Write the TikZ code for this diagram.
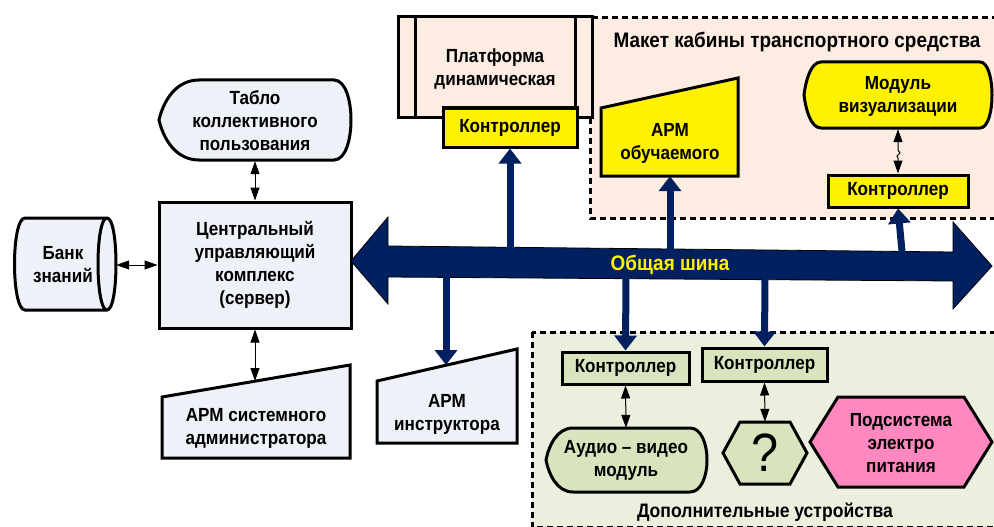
\documentclass[tikz,border=0pt]{standalone}
\usepackage{fontspec}
\setmainfont{Liberation Sans}[FakeStretch=0.9]
\usetikzlibrary{arrows.meta}

\definecolor{busblue}{RGB}{0,32,96}
\definecolor{srvfill}{RGB}{238,241,247}
\definecolor{cabfill}{RGB}{252,236,226}
\definecolor{devfill}{RGB}{235,240,222}
\definecolor{devbox}{RGB}{215,228,189}
\definecolor{powfill}{RGB}{255,136,192}

% display symbol: style, x1, y1, x2, y2, left depth, right depth
\newcommand{\dispshape}[7]{\path[#1] ({#2+#6},#3) -- ({#4-#7},#3)
  .. controls ({#4+#7/3},#3) and ({#4+#7/3},#5) .. ({#4-#7},#5) -- ({#2+#6},#5)
  .. controls ({#2+0.4*#6},#5) and ({#2+0.1*#6},{(#3+#5)/2+0.22*(#5-#3)}) .. (#2,{(#3+#5)/2})
  .. controls ({#2+0.1*#6},{(#3+#5)/2-0.22*(#5-#3)}) and ({#2+0.4*#6},#3) .. cycle;}
% hexagon: style, x1, y1, x2, y2, corner
\newcommand{\hexshape}[6]{\path[#1] (#2,{(#3+#5)/2}) -- ({#2+#6},#3) -- ({#4-#6},#3)
  -- (#4,{(#3+#5)/2}) -- ({#4-#6},#5) -- ({#2+#6},#5) -- cycle;}

\begin{document}
\begin{tikzpicture}[x=1pt,y=-1pt,
    txt/.style={font=\fontsize{19}{23}\selectfont\bfseries,align=center,inner sep=0pt},
    box/.style={txt,draw,line width=3pt},
    outline/.style={draw,line width=3pt},
    link/.style={line width=1pt,{Triangle[length=13pt,width=9pt]}-{Triangle[length=13pt,width=9pt]}},
    busline/.style={line width=7pt,busblue,-{Triangle[length=15pt,width=22pt]}},
    zone/.style={draw,line width=3pt,dash pattern=on 6pt off 4pt}]
  \useasboundingbox (0,0) rectangle (994,527);

  \path[zone,fill=cabfill] (590,18) rectangle (1004,218);
  \path[zone,fill=devfill] (532,332) rectangle (1004,527);

  \node (cabin) at (797,42) [txt,font=\fontsize{21}{25}\selectfont\bfseries] {Макет кабины транспортного средства};
  \node (devices) at (765,512) [txt,font=\fontsize{19.5}{23}\selectfont\bfseries] {Дополнительные устройства};

  % server side
  \node (central) at (255,265) [box,fill=srvfill,minimum width=192pt,minimum height=126pt] {Центральный\\управляющий\\комплекс\\(сервер)};

  \dispshape{outline,fill=srvfill}{159}{80}{351}{160}{40}{17}
  \node (tablo) at (255,121) [txt,minimum width=192pt,minimum height=80pt] {Табло\\коллективного\\пользования};

  \path[outline,fill=srvfill] (107,218) -- (25,218) .. controls (11,218) and (11,310) .. (25,310)
    -- (107,310) .. controls (119,310) and (119,218) .. cycle;
  \draw[line width=3pt] (107,218) .. controls (95,218) and (95,310) .. (107,310);
  \node (bank) at (63,265) [txt,minimum width=106pt,minimum height=92pt] {Банк\\знаний};

  \path[outline,fill=srvfill] (162,397) -- (350,365) -- (350,458) -- (162,458) -- cycle;
  \node (armadm) at (256,428) [txt] {АРМ системного\\администратора};
  \coordinate (admtop) at (255,381);

  \path[outline,fill=srvfill] (377,381) -- (517,349) -- (517,443) -- (377,443) -- cycle;
  \node (arminstr) at (447,414) [txt] {АРМ\\инструктора};
  \coordinate (instrtop) at (446,365);

  \draw[link] (bank.east) -- (central.west);
  \draw[link] (tablo.south) -- (central.north);
  \draw[link] (central.south) -- (admtop);

  % platform
  \path[outline,fill=cabfill] (398,17) rectangle (592,117);
  \draw[line width=3pt] (415,17) -- (415,117) (575,17) -- (575,117);
  \node (platform) at (495,69) [txt] {Платформа\\динамическая};
  \node (ctrlplat) at (510,127.5) [box,fill=yellow,minimum width=134pt,minimum height=39pt] {Контроллер};

  % cabin
  \path[outline,fill=yellow] (601,108) -- (738,78) -- (738,176) -- (601,176) -- cycle;
  \node (armstud) at (670,143) [txt,minimum width=137pt,minimum height=66pt] {АРМ\\обучаемого};

  \dispshape{outline,fill=yellow}{804}{62}{992}{128}{17}{12}
  \node (visual) at (898,96) [txt,minimum height=66pt] {Модуль\\визуализации};
  \node (ctrlcab) at (898,191) [box,fill=yellow,minimum width=140pt,minimum height=32pt] {Контроллер};
  \draw[link] (visual.south) -- (898,150) -- (900,153) -- (897,156) -- (898,158) -- (ctrlcab.north);

  % additional devices
  \node (ctrlaudio) at (625.5,368) [box,fill=devbox,minimum width=127pt,minimum height=32pt] {Контроллер};
  \node (ctrlq) at (764.5,364.5) [box,fill=devbox,minimum width=125pt,minimum height=33pt] {Контроллер};

  \dispshape{outline,fill=devbox}{546}{428}{707}{492}{27}{17}
  \node (audio) at (626,460) [txt,minimum height=64pt] {Аудио – видео\\модуль};

  \hexshape{outline,fill=devbox}{723}{422}{807}{484}{17}
  \node (unknown) at (765,453) [inner sep=0pt,minimum height=62pt,font=\fontsize{54}{54}\selectfont] {?};

  \hexshape{outline,fill=powfill}{810}{397}{992}{487}{28}
  \node (power) at (901,443) [txt] {Подсистема\\электро\\питания};

  \draw[link] (ctrlaudio.south) -- (audio.north);
  \draw[link] (ctrlq.south) -- (unknown.north);

  % common bus
  \path[fill=busblue,draw=black,line width=0.8pt] (351,261) -- (388,217) -- (388,246) -- (953,252)
    -- (953,222) -- (992,266) -- (953,309) -- (953,281) -- (388,277) -- (388,304) -- cycle;
  \node (bus) at (670,265) [txt,text=yellow,font=\fontsize{21}{25}\selectfont\bfseries] {Общая шина};

  \coordinate (bp) at (510,251);
  \coordinate (bs) at (670,253);
  \coordinate (bc) at (903,262);
  \coordinate (bi) at (446,274);
  \coordinate (ba) at (626,275);
  \coordinate (bq) at (765,276);

  \draw[busline] (bp) -- (ctrlplat.south);
  \draw[busline] (bs) -- (armstud.south);
  \draw[busline] (bc) -- (ctrlcab.south);
  \draw[busline] (bi) -- (instrtop);
  \draw[busline] (ba) -- (ctrlaudio.north);
  \draw[busline] (bq) -- (ctrlq.north);
\end{tikzpicture}
\end{document}
